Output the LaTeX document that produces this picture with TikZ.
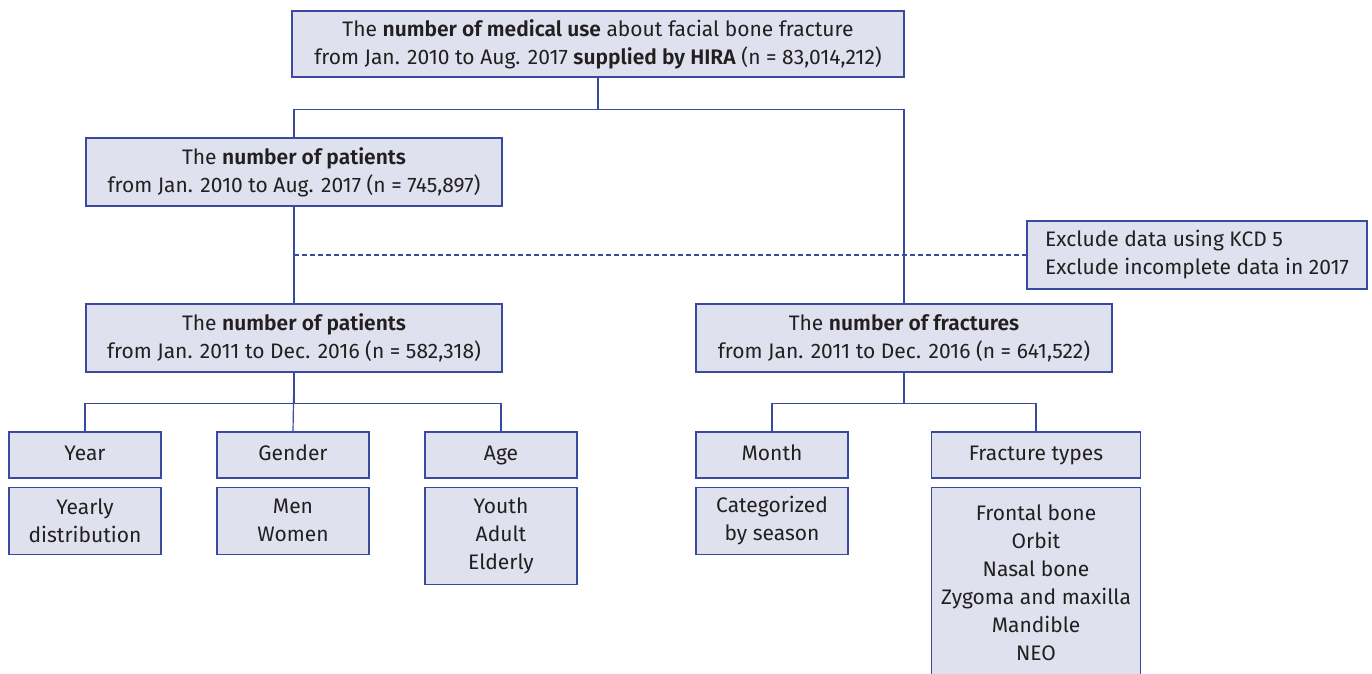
\documentclass[tikz,border=0pt]{standalone}
\usepackage{fontspec}
\setmainfont{Fira Sans}[BoldFont = {Fira Sans SemiBold}]
\usepackage{tikz}
\usetikzlibrary{positioning,calc}
\definecolor{boxfill}{HTML}{DFE1EE}
\definecolor{boxline}{HTML}{3A4A9E}
\definecolor{ink}{HTML}{231F20}

\begin{document}
\begin{tikzpicture}[
			x = 1pt, y = -1pt,
			every node/.style = {font = \fontsize{21}{28}\selectfont, text = ink},
			box/.style = {draw = boxline, fill = boxfill, line width = 1.2pt, align = center, inner sep = 0pt},
			bigbox/.style = {box, minimum width = 416pt, minimum height = 68pt},
			smallbox/.style = {box, minimum width = 152pt, minimum height = 46pt, text height = 15pt, text depth = 4pt},
			link/.style = {draw = boxline, line width = 1.2pt},
			node distance = 8pt]

			\useasboundingbox (0,0) rectangle (1372,673);

			% top level
			\node[box, minimum width = 612pt, minimum height = 66pt] (total) at (598,44)
				{The \textbf{number of medical use} about facial bone fracture\\
				 from Jan. 2010 to Aug. 2017 \textbf{supplied by HIRA} (n = 83,014,212)};

			\node[bigbox] (pat1) at (294,172) {The \textbf{number of patients}\\from Jan. 2010 to Aug. 2017 (n = 745,897)};
			\node[box, minimum width = 340pt, minimum height = 68pt, align = left] (excl) at (1197,255)
				{Exclude data using KCD 5\\Exclude incomplete data in 2017};

			\node[bigbox] (pat2) at (294,338) {The \textbf{number of patients}\\from Jan. 2011 to Dec. 2016 (n = 582,318)};
			\node[bigbox] (frac) at (904,338) {The \textbf{number of fractures}\\from Jan. 2011 to Dec. 2016 (n = 641,522)};

			% categories
			\node[smallbox] (year) at (85,455) {Year};
			\node[smallbox] (gender) at (293,455) {Gender};
			\node[smallbox] (age) at (501,455) {Age};
			\node[smallbox] (month) at (772,455) {Month};
			\node[smallbox, minimum width = 209pt] (ftype) at (1036,455) {Fracture types};

			\node[box, minimum width = 152pt, minimum height = 67pt, below = of year] (yearly) {Yearly\\distribution};
			\node[box, minimum width = 152pt, minimum height = 67pt, below = of gender] (sex) {Men\\Women};
			\node[box, minimum width = 152pt, minimum height = 97pt, below = of age] (agegrp) {Youth\\Adult\\Elderly};
			\node[box, minimum width = 152pt, minimum height = 67pt, below = of month] (season) {Categorized\\by season};
			\node[box, minimum width = 209pt, minimum height = 192pt, below = of ftype] (ftlist)
				{Frontal bone\\Orbit\\Nasal bone\\Zygoma and maxilla\\Mandible\\NEO};

			% connectors
			\draw[link] (total.south) -- ++(0,32) -| (pat1.north);
			\draw[link] (total.south) -- ++(0,32) -| (frac.north);
			\draw[link] (pat1.south) -- (pat2.north);
			\draw[link, dashed, dash pattern = on 5pt off 3pt] (pat1.south |- excl.west) -- (excl.west);

			\draw[link] (pat2.south) -- ++(0,31) -| (year.north);
			\draw[link] (pat2.south) -- ++(0,31) -| (age.north);
			\draw[link] (pat2.south) -- (gender.north);

			\draw[link] (frac.south) -- ++(0,31) -| (month.north);
			\draw[link] (frac.south) -- ++(0,31) -| (ftype.north);

		\end{tikzpicture}
\end{document}
